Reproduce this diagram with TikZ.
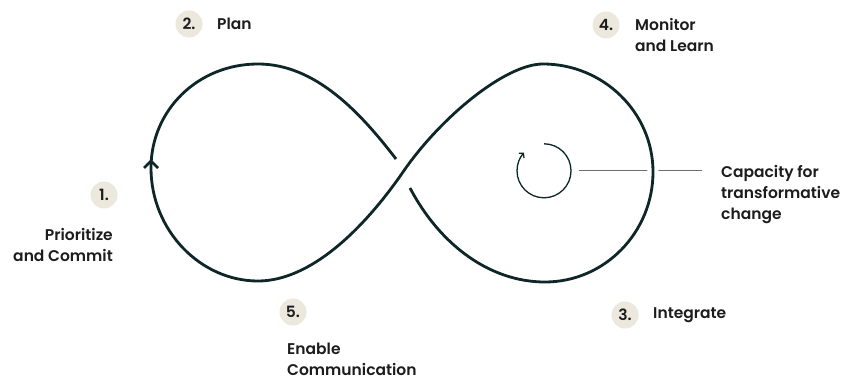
\documentclass[tikz,border=0pt]{standalone}
\usepackage{fontspec}
\setmainfont{Poppins}[UprightFont={* SemiBold}]
\usepackage{tikz}
\usetikzlibrary{arrows.meta}

\definecolor{loopink}{HTML}{0E2628}
\definecolor{badgefill}{HTML}{ECE8DE}
\definecolor{labelink}{HTML}{1C1C1C}
\definecolor{leadgray}{HTML}{6E6E6E}

\begin{document}
\begin{tikzpicture}[x=1pt, y=-1pt]
\def\labelfont{\fontsize{15.5}{21}\selectfont}
\def\loopwidth{2.8pt}
\tikzset{
  badge/.style={circle, fill=badgefill, text=labelink, minimum size=27pt, inner sep=0pt, font=\labelfont},
  steptext/.style={text=labelink, inner sep=0pt, font=\labelfont},
}
\useasboundingbox[fill=white] (0,0) rectangle (845,382);

\begin{scope} % CYCLE AND LEADER
\node[circle, minimum size=54pt, inner sep=0pt] (cycle) at (544,171) {};
\node[steptext, anchor=north west, align=left] (capacity) at (721,165) {Capacity for\\transformative\\change};
\draw[leadgray, line width=1pt] ([xshift=8pt]cycle.east) -- ([xshift=-19pt]capacity.west |- cycle.east);
\draw[loopink, line width=1.3pt, -{Straight Barb[length=3pt, width=7pt]}] (cycle.north) arc[start angle=-90, end angle=222, radius=27];
\end{scope}

\begin{scope} % INFINITY LOOP
\draw[loopink, line width=\loopwidth, preaction={draw=white, line width=11pt}]
  (410,188) .. controls (440,245) and (490,282) .. (545,282)
  .. controls (605,282) and (653,232) .. (653,172)
  .. controls (653,112) and (603,64) .. (543,64)
  .. controls (505,64) and (440,118) .. (403,172)
  .. controls (363,230) and (310,281) .. (258,281)
  .. controls (200,281) and (151,230) .. (151,168)
  .. controls (151,110) and (198,64) .. (258,64)
  .. controls (315,64) and (360,112) .. (396,159);
\draw[loopink, line width=2.6pt] (144,168) -- (151,161) -- (158,168);
\end{scope}

\begin{scope} % STEPS
\node[badge] (b1) at (104,195) {1.};
\node[steptext, anchor=north east, align=right] (prioritize) at (113,228) {Prioritize\\and Commit};

\node[badge] (b2) at (189,24) {2.};
\node[steptext, anchor=west] (plan) at (217,24) {Plan};

\node[badge] (b3) at (625,315) {3.};
\node[steptext, anchor=west] (integrate) at (653,315) {Integrate};

\node[badge] (b4) at (606,25) {4.};
\node[steptext, anchor=north west, align=left] (monitor) at (635,18) {Monitor\\and Learn};

\node[badge] (b5) at (293,312) {5.};
\node[steptext, anchor=north west, align=left] (enable) at (287,343) {Enable\\Communication};
\end{scope}
\end{tikzpicture}
\end{document}
